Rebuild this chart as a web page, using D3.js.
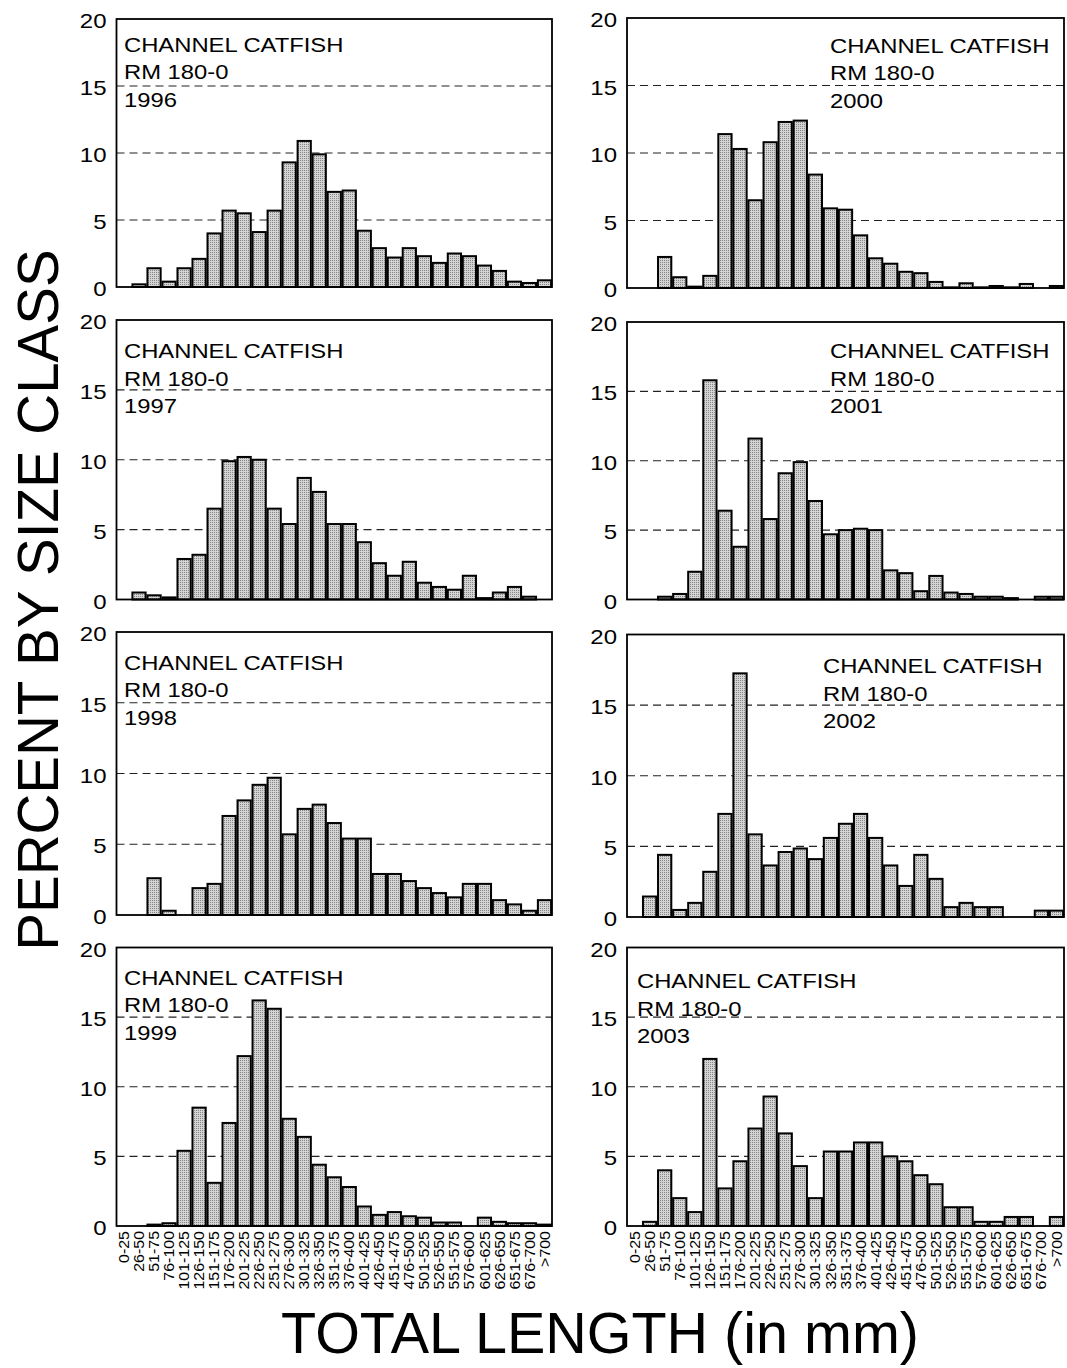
<!DOCTYPE html>
<html>
<head>
<meta charset="utf-8">
<title>Channel catfish length frequency</title>
<style>
	body { margin: 0; background: #fff; }
	text { font-family: "Liberation Sans", Arial, sans-serif; fill: #000; }
</style>
</head>
<body>
	<script src="https://cdnjs.cloudflare.com/ajax/libs/d3/7.8.5/d3.min.js"></script>
	<script>

	// size classes (mm)
	var classes = ['0-25','26-50','51-75','76-100','101-125','126-150','151-175','176-200',
		'201-225','226-250','251-275','276-300','301-325','326-350','351-375','376-400',
		'401-425','426-450','451-475','476-500','501-525','526-550','551-575','576-600',
		'601-625','626-650','651-675','676-700','>700'];

	var yTicks = [0, 5, 10, 15, 20];

	// percent by size class, one array per year
	var y1996 = [0,0.2,1.4,0.4,1.4,2.1,4.0,5.7,5.5,4.1,5.7,9.3,10.9,9.9,7.1,7.2,4.2,2.9,2.2,2.9,2.3,1.8,2.5,2.3,1.6,1.2,0.4,0.3,0.5];
	var y1997 = [0,0.5,0.3,0.15,2.9,3.2,6.5,9.9,10.2,10.0,6.5,5.4,8.7,7.7,5.4,5.4,4.1,2.6,1.7,2.7,1.2,0.9,0.7,1.7,0.1,0.5,0.9,0.2,0];
	var y1998 = [0,0,2.6,0.3,0,1.9,2.2,7.0,8.1,9.2,9.7,5.7,7.5,7.8,6.5,5.4,5.4,2.9,2.9,2.4,1.9,1.55,1.25,2.2,2.2,1.05,0.75,0.3,1.05];
	var y1999 = [0,0,0.1,0.2,5.4,8.5,3.1,7.4,12.2,16.2,15.6,7.7,6.4,4.4,3.5,2.8,1.4,0.8,1.0,0.7,0.6,0.25,0.25,0,0.6,0.3,0.2,0.2,0.1];
	var y2000 = [0,0,2.3,0.8,0.1,0.9,11.4,10.3,6.5,10.8,12.3,12.4,8.4,5.9,5.8,3.9,2.2,1.8,1.2,1.1,0.45,0.05,0.35,0.05,0.15,0.05,0.3,0,0.15];
	var y2001 = [0,0,0.2,0.4,2.0,15.8,6.4,3.8,11.6,5.8,9.1,9.9,7.1,4.7,5.0,5.1,5.0,2.1,1.9,0.6,1.7,0.5,0.4,0.2,0.2,0.1,0,0.2,0.2];
	var y2002 = [0,1.45,4.4,0.5,1.0,3.2,7.3,17.25,5.85,3.65,4.6,4.85,4.1,5.6,6.6,7.3,5.6,3.65,2.2,4.4,2.7,0.7,1.0,0.7,0.7,0,0,0.45,0.45];
	var y2003 = [0,0.3,4.0,2.0,1.0,12.0,2.7,4.65,7.0,9.3,6.65,4.3,2.0,5.35,5.35,6.0,6.0,5.0,4.65,3.65,3.0,1.35,1.35,0.3,0.3,0.65,0.65,0,0.65];

	var years = ['1996','1997','1998','1999','2000','2001','2002','2003'];
	var series = [y1996, y1997, y1998, y1999, y2000, y2001, y2002, y2003];

	// panel layout (pixels)
	var colX = [[116.5, 552], [627, 1064]];
	var rowY = [[[19, 287], [320, 599.5], [632, 915], [947.5, 1226]],
				[[18, 288], [322, 599.5], [634.5, 917], [947.5, 1226]]];
	var labelPos = [[[124, 51.7], [124, 358.3], [124, 670], [124, 985]],
					[[830, 52.7], [830, 358.3], [823, 673.3], [637, 988.3]]];

	var W = 1067, H = 1368;
	var svg = d3.select('body').append('svg')
		.attr('width', W)
		.attr('height', H);

	// stippled grey fill
	var pat = svg.append('defs').append('pattern')
		.attr('id', 'stip')
		.attr('patternUnits', 'userSpaceOnUse')
		.attr('width', 2).attr('height', 2);
	pat.append('rect').attr('width', 2).attr('height', 2).attr('fill', '#d4d4d4');
	pat.append('rect').attr('width', 1).attr('height', 1).attr('fill', '#868686');

	series.forEach(function(vals, k){
		var col = Math.floor(k / 4), row = k % 4;
		var x0 = colX[col][0], x1 = colX[col][1];
		var y0 = rowY[col][row][0], y1 = rowY[col][row][1];

		var x = d3.scaleBand().domain(classes).range([x0, x1]).paddingInner(0.12).paddingOuter(0.06);
		var y = d3.scaleLinear().domain([0, 20]).range([y1, y0]);

		var g = svg.append('g');

		// dashed grid
		g.selectAll('line.grid').data(yTicks.filter(function(t){ return t > 0 && t < 20; }))
			.enter().append('line')
			.attr('x1', x0).attr('x2', x1)
			.attr('y1', function(d){ return y(d); })
			.attr('y2', function(d){ return y(d); })
			.attr('stroke', '#222')
			.attr('stroke-width', 1.1)
			.attr('stroke-dasharray', '8,5');

		// bars
		g.selectAll('rect.bar').data(vals.map(function(v, i){ return { c: classes[i], v: v }; }).filter(function(d){ return d.v > 0; }))
			.enter().append('rect')
			.attr('x', function(d){ return x(d.c); })
			.attr('width', x.bandwidth())
			.attr('y', function(d){ return y(d.v); })
			.attr('height', function(d){ return y(0) - y(d.v); })
			.attr('fill', 'url(#stip)')
			.attr('stroke', '#000')
			.attr('stroke-width', 2);

		// frame
		g.append('rect')
			.attr('x', x0).attr('y', y0)
			.attr('width', x1 - x0).attr('height', y1 - y0)
			.attr('fill', 'none')
			.attr('stroke', '#000')
			.attr('stroke-width', 1.8);

		// y tick labels
		g.selectAll('text.yt').data(yTicks).enter().append('text')
			.attr('transform', function(d){ return 'translate(' + (x0 - 10) + ',' + (y(d) + 2) + ') scale(1.2,1)'; })
			.attr('text-anchor', 'end')
			.attr('dy', '0.35em')
			.style('font-size', '20px')
			.text(function(d){ return d; });

		// panel label
		var lp = labelPos[col][row];
		var lab = g.append('g').attr('transform', 'translate(' + lp[0] + ',' + lp[1] + ') scale(1.19,1)');
		['CHANNEL CATFISH', 'RM 180-0', years[k]].forEach(function(s, j){
			lab.append('text')
				.attr('y', j * 27.5)
				.style('font-size', '20px')
				.text(s);
		});

		// size class labels on bottom row
		if (row == 3) {
			g.selectAll('text.xt').data(classes).enter().append('text')
				.attr('transform', function(d){ return 'translate(' + (x(d) + x.bandwidth() / 2) + ',' + (y1 + 5) + ') rotate(-90) scale(1.1,1)'; })
				.attr('text-anchor', 'end')
				.attr('dy', '0.35em')
				.style('font-size', '14.5px')
				.text(function(d){ return d; });
		}
	});

	// axis titles
	svg.append('text')
		.attr('transform', 'translate(58,600) rotate(-90)')
		.attr('text-anchor', 'middle')
		.style('font-size', '56.5px')
		.text('PERCENT BY SIZE CLASS');

	svg.append('text')
		.attr('x', 600).attr('y', 1353)
		.attr('text-anchor', 'middle')
		.style('font-size', '57.5px')
		.text('TOTAL LENGTH (in mm)');

	</script>
</body>
</html>
